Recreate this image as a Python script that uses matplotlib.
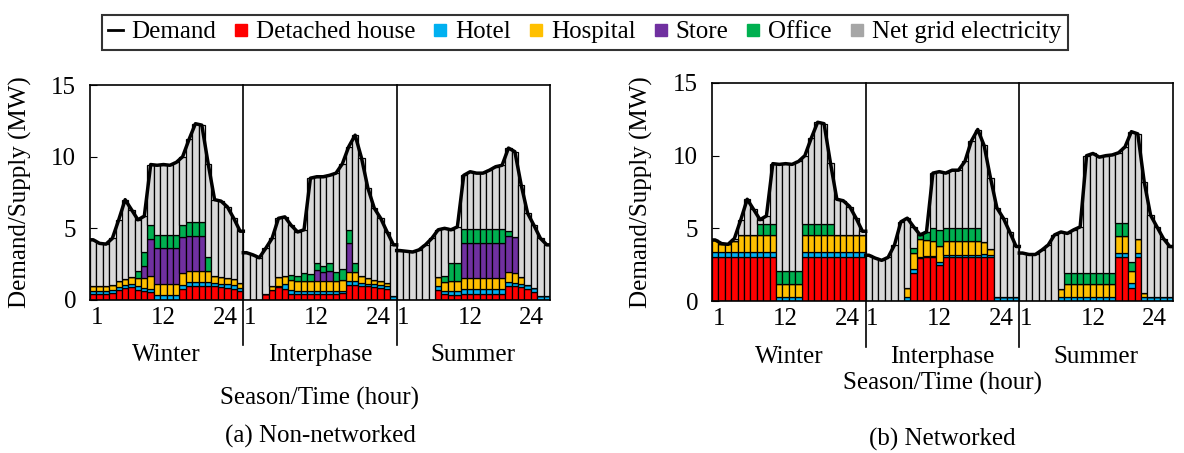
import numpy as np
import matplotlib
matplotlib.use("Agg")
import matplotlib.pyplot as plt
from matplotlib.lines import Line2D

plt.rcParams["font.family"] = ["Liberation Serif", "DejaVu Serif"]
FS = 18

SEASONS = ["Winter", "Interphase", "Summer"]
HOUR_TICKS = ["1", "12", "24"]

# colours of the supply sources
C_HOUSE, C_HOTEL, C_HOSP = "#FF0000", "#00B0F0", "#FFC000"
C_STORE, C_OFFICE, C_GRID = "#7030A0", "#00B050", "#D9D9D9"

# ---- (a) Non-networked: 72 hours = winter | interphase | summer ----
a_demand = [4.2, 3.95, 3.9, 4.3, 5.6, 7.0, 6.3, 5.6, 5.85, 9.45, 9.4, 9.45, 9.4, 9.6, 10.0, 11.2, 12.3, 12.2, 9.5, 7.0, 6.9, 6.5, 5.7, 4.8,
            3.3, 3.15, 2.95, 3.6, 4.3, 5.7, 5.8, 5.2, 4.75, 4.9, 8.5, 8.6, 8.6, 8.7, 8.85, 9.5, 10.7, 11.5, 9.9, 7.8, 6.4, 5.7, 4.75, 3.85,
            3.45, 3.4, 3.35, 3.5, 3.85, 4.3, 4.9, 5.0, 4.9, 5.1, 8.7, 8.95, 8.85, 8.85, 9.05, 9.3, 9.4, 10.6, 10.35, 8.0, 6.05, 5.2, 4.3, 3.85]
a_house = [.45, .45, .45, .5, .7, .85, .9, .7, .6, .55, 0, 0, 0, 0, .8, .95, .95, .95, .95, .95, .9, .85, .8, .6,
           0, 0, 0, .45, .7, .9, .8, .45, .45, .45, .45, .45, .45, .45, .45, .5, 1.05, 1.05, 1.0, .95, .9, .85, .75, 0,
           0, 0, 0, 0, 0, 0, .7, .4, .35, .35, .45, .45, .45, .45, .45, .45, .45, .95, .95, .9, .75, .55, 0, 0]
a_hotel = [.2, .2, .2, .2, .2, .2, .2, .25, .25, .2, .35, .35, .35, .35, .25, .3, .3, .3, .3, .25, .25, .25, .25, .25,
           0, 0, 0, 0, 0, .05, .3, .25, .15, .15, .15, .15, .15, .15, .15, .15, .25, .25, .2, .2, .2, .2, .25, .3,
           0, 0, 0, 0, 0, 0, .3, .25, .25, .25, .3, .3, .3, .3, .3, .3, .3, .3, .25, .25, .3, .3, .3, .3]
a_hosp = [.35, .3, .3, .35, .4, .45, .5, .6, .7, .9, .8, .8, .8, .8, .8, .8, .8, .8, .75, .5, .45, .45, .4, .35,
          0, 0, 0, 0, .3, .65, .55, .7, .7, .75, .75, .75, .75, .75, .75, .75, .65, .65, .5, .4, .3, .25, .2, 0,
          0, 0, 0, 0, 0, 0, .6, .6, .75, .75, .8, .8, .8, .8, .8, .8, .8, .7, .7, .45, 0, 0, 0, 0]
a_store = [0, 0, 0, 0, 0, 0, 0, 0, .8, 2.6, 2.45, 2.45, 2.45, 2.45, 2.55, 2.45, 2.45, 2.45, 0, 0, 0, 0, 0, 0,
           0, 0, 0, 0, 0, 0, 0, 0, 0, 0, 0, .75, .6, .65, 0, 0, 2.0, 0, 0, 0, 0, 0, 0, 0,
           0, 0, 0, 0, 0, 0, 0, 0, 0, 0, 2.45, 2.45, 2.45, 2.45, 2.45, 2.45, 2.45, 2.5, 2.5, 0, 0, 0, 0, 0]
a_office = [0, 0, 0, 0, 0, 0, 0, .45, 1.0, .95, .95, .95, .95, .95, .85, .95, .95, .95, 1.0, 0, 0, 0, 0, 0,
            0, 0, 0, 0, 0, 0, 0, .35, .35, .5, .45, .5, .4, .55, .6, .75, .9, .65, 0, 0, 0, 0, 0, 0,
            0, 0, 0, 0, 0, 0, 0, .45, 1.2, 1.2, .95, .95, .95, .95, .95, .95, .95, .35, 0, 0, 0, 0, 0, 0]

# ---- (b) Networked ----
b_demand = [4.2, 3.95, 3.9, 4.3, 5.6, 7.0, 6.3, 5.6, 5.85, 9.45, 9.4, 9.45, 9.4, 9.6, 10.0, 11.2, 12.3, 12.2, 9.5, 7.0, 6.9, 6.5, 5.7, 4.8,
            3.15, 2.95, 2.8, 3.0, 3.85, 5.45, 5.7, 5.1, 4.55, 4.75, 8.8, 8.9, 8.8, 9.0, 9.0, 9.6, 11.0, 11.8, 10.7, 8.45, 6.4, 5.7, 4.75, 3.75,
            3.3, 3.2, 3.2, 3.5, 3.85, 4.55, 4.75, 4.65, 4.9, 5.1, 10.0, 10.15, 9.9, 10.0, 10.05, 10.2, 10.6, 11.65, 11.5, 8.2, 5.9, 5.1, 4.3, 3.75]
b_house = [3.05] * 10 + [0] * 4 + [3.05] * 10 + \
          [0, 0, 0, 0, 0, 0, 0, 1.9, 2.95, 3.0, 3.0, 2.45, 3.0, 3.0, 3.0, 3.0, 3.0, 3.0, 3.0, 3.0, 0, 0, 0, 0] + \
          [0, 0, 0, 0, 0, 0, 0, 0, 0, 0, 0, 0, 0, 0, 0, 3.05, 3.05, .9, 3.05, 0, 0, 0, 0, 0]
b_hotel = [.3] * 24 + \
          [0, 0, 0, 0, 0, 0, .3, .3, .1, .1, .1, .2, .15, .15, .15, .15, .15, .15, .2, .15, .3, .3, .3, .3] + \
          [0, 0, 0, 0, 0, 0, .25, .25, .25, .25, .25, .25, .25, .25, .25, .25, .25, .35, .25, .25, .25, .25, .25, .25]
b_hosp = [.85, .6, .55, .75, 1.2, 1.2, 1.2, 1.2, 1.2, 1.2, .85, .85, .85, .85, 1.2, 1.2, 1.2, 1.2, 1.2, 1.2, 1.2, 1.2, 1.2, 1.2] + \
         [0, 0, 0, 0, 0, 0, .6, 1.1, 1.25, 1.1, 1.0, 1.15, 1.0, 1.0, 1.0, 1.0, 1.0, 1.0, .85, .4, 0, 0, 0, 0] + \
         [0, 0, 0, 0, 0, 0, .6, .9, .9, .9, .9, .9, .9, .9, .9, 1.15, 1.15, .8, 1.0, .3, 0, 0, 0, 0]
b_store = [0] * 72
b_office = [0, 0, 0, 0, 0, 0, 0, .75, .75, .75, .9, .9, .9, .9, .75, .75, .75, .75, .75, 0, 0, 0, 0, 0] + \
           [0, 0, 0, 0, 0, 0, 0, .35, .25, .55, .9, 1.1, .9, .9, .9, .9, .9, .9, 0, 0, 0, 0, 0, 0] + \
           [0, 0, 0, 0, 0, 0, 0, .8, .8, .8, .8, .8, .8, .8, .8, .9, .9, .6, 0, 0, 0, 0, 0, 0]


def draw_panel(ax, demand, house, hotel, hosp, store, office, xlabel, title, xlabel_y):
    x = np.arange(1, 73)
    parts = [(house, C_HOUSE), (hotel, C_HOTEL), (hosp, C_HOSP),
             (store, C_STORE), (office, C_OFFICE)]
    bottom = np.zeros(72)
    for vals, col in parts:
        v = np.array(vals, dtype=float)
        ax.bar(x, v, 1.0, bottom=bottom, color=col, edgecolor="black", lw=0.9)
        bottom += v
    grid = np.clip(np.array(demand) - bottom, 0, None)
    ax.bar(x, grid, 1.0, bottom=bottom, color=C_GRID, edgecolor="black", lw=0.9)

    # demand line, broken between seasons
    for s in range(3):
        d = demand[24 * s:24 * s + 24]
        xs = np.concatenate([[24 * s + 0.5], x[24 * s:24 * s + 24], [24 * s + 24.5]])
        ys = np.concatenate([[d[0]], d, [d[-1]]])
        ax.plot(xs, ys, color="black", lw=2.5, zorder=5)

    ax.set_xlim(0.5, 72.5)
    ax.set_ylim(0, 15)
    ax.set_yticks([0, 5, 10, 15])
    ax.tick_params(axis="y", direction="in", length=5, labelsize=FS, pad=10)
    ax.tick_params(axis="x", length=0, labelsize=FS, pad=5)

    ticks, labels = [], []
    for s in range(3):
        ticks += [24 * s + 0.6, 24 * s + 12, 24 * s + 23.6]
        labels += HOUR_TICKS
    ax.set_xticks(ticks)
    ax.set_xticklabels(labels)
    for i, lab in enumerate(ax.get_xticklabels()):
        lab.set_ha(["left", "center", "right"][i % 3])

    tr = ax.get_xaxis_transform()
    for b in (24.5, 48.5):
        ax.plot([b, b], [1, -0.21], color="black", lw=1.2, transform=tr,
                clip_on=False, zorder=6)
    for s, name in enumerate(SEASONS):
        ax.text(24 * s + 12.5, -0.255, name, transform=tr, ha="center",
                va="center", fontsize=FS)
    ax.text(0.5, xlabel_y, xlabel, transform=ax.transAxes, ha="center",
            va="center", fontsize=FS)
    ax.text(0.5, -0.635, title, transform=ax.transAxes, ha="center",
            va="center", fontsize=FS)
    ax.text(-0.152, 0.5, "Demand/Supply (MW)", transform=ax.transAxes,
            rotation=90, ha="center", va="center", fontsize=FS)
    for sp in ax.spines.values():
        sp.set_linewidth(1.2)


fig = plt.figure(figsize=(11.84, 4.53), dpi=100)
ax_a = fig.add_axes([90 / 1184, 1 - 300 / 453, 460 / 1184, 215 / 453])
ax_b = fig.add_axes([712 / 1184, 1 - 301 / 453, 461 / 1184, 218 / 453])

draw_panel(ax_a, a_demand, a_house, a_hotel, a_hosp, a_store, a_office,
           "Season/Time (hour)", "(a) Non-networked", -0.456)
draw_panel(ax_b, b_demand, b_house, b_hotel, b_hosp, b_store, b_office,
           "Season/Time (hour)", "(b) Networked", -0.38)

handles = [Line2D([], [], color="black", lw=2)]
names = ["Demand", "Detached house", "Hotel", "Hospital", "Store", "Office",
         "Net grid electricity"]
for col in (C_HOUSE, C_HOTEL, C_HOSP, C_STORE, C_OFFICE, "#A6A6A6"):
    handles.append(Line2D([], [], ls="none", marker="s", markersize=8,
                          markerfacecolor=col, markeredgecolor=col))
leg = fig.legend(handles, names, loc="center", bbox_to_anchor=(0.494, 0.929),
                 ncol=7, fontsize=FS, frameon=True, fancybox=False,
                 handlelength=0.6, handletextpad=0.3, columnspacing=0.7,
                 borderpad=0.25)
leg.get_frame().set_edgecolor("black")
leg.get_frame().set_linewidth(1.5)

fig.savefig("out.png", dpi=100)
